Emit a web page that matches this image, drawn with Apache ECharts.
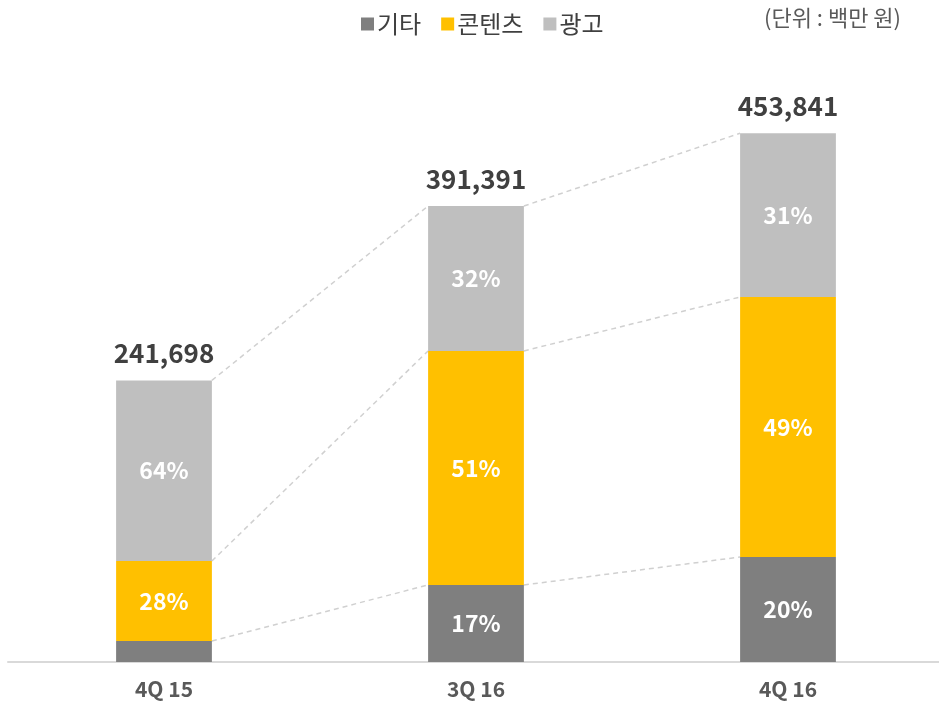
<!DOCTYPE html>
<html>
<head>
<meta charset="utf-8">
<script src="https://cdn.jsdelivr.net/npm/echarts@6/dist/echarts.min.js"></script>
<style>
  html, body { margin: 0; padding: 0; background: #fff; }
  #chart { width: 939px; height: 701px; }
</style>
</head>
<body>
<div id="chart"></div>
<script>
var categories = ['4Q 15', '3Q 16', '4Q 16'];
var etc = [18000, 66100, 90100];          // 기타
var contents = [68700, 200900, 223200];   // 콘텐츠
var ads = [154998, 124391, 140541];       // 광고
var totals = ['241,698', '391,391', '453,841'];
var etcPct = ['', '17%', '20%'];
var contentsPct = ['28%', '51%', '49%'];
var adsPct = ['64%', '32%', '31%'];

var FONT = '"Noto Sans CJK KR", "Noto Sans", sans-serif';
var BAR_RATIO = 0.307;

// connector lines between neighbouring bars
var links = [];
for (var i = 0; i < categories.length - 1; i++) {
    var a1 = etc[i], b1 = a1 + contents[i], c1 = b1 + ads[i];
    var a2 = etc[i + 1], b2 = a2 + contents[i + 1], c2 = b2 + ads[i + 1];
    links.push([i, i + 1, a1, b1, c1, a2, b2, c2]);
}

function pctLabel(arr) {
    return {
        show: true,
        position: 'inside',
        color: '#fff',
        fontSize: 23,
        fontWeight: 'bold',
        fontFamily: FONT,
        formatter: function (p) { return arr[p.dataIndex]; }
    };
}

var chart = echarts.init(document.getElementById('chart'));
var option = {
    animation: false,
    textStyle: { fontFamily: FONT },
    legend: {
        data: ['기타', '콘텐츠', '광고'],
        top: 7,
        left: 356,
        icon: 'rect',
        itemWidth: 13,
        itemHeight: 13,
        itemGap: 20,
        textStyle: { fontSize: 24, color: '#404040', fontFamily: FONT, padding: [0, 0, 0, -2] }
    },
    graphic: [{
        type: 'text',
        right: 38,
        top: 7,
        style: { text: '(단위 : 백만 원)', fontSize: 22, fill: '#595959', fontFamily: FONT }
    }],
    grid: { left: 8, width: 936, top: 62, bottom: 39, outerBoundsMode: 'none', containLabel: false },
    xAxis: {
        type: 'category',
        data: categories,
        axisLine: { lineStyle: { color: '#d9d9d9', width: 2 } },
        axisTick: { show: false },
        axisLabel: { fontSize: 21, color: '#595959', fontWeight: 'bold', margin: 17, fontFamily: FONT }
    },
    yAxis: {
        type: 'value',
        min: 0,
        max: 515000,
        show: false,
        splitLine: { show: false }
    },
    series: [
        {
            name: '기타', type: 'bar', stack: 'total', barWidth: (BAR_RATIO * 100) + '%',
            itemStyle: { color: '#7f7f7f' },
            label: pctLabel(etcPct),
            data: etc
        },
        {
            name: '콘텐츠', type: 'bar', stack: 'total',
            itemStyle: { color: '#ffc000' },
            label: pctLabel(contentsPct),
            data: contents
        },
        {
            name: '광고', type: 'bar', stack: 'total',
            itemStyle: { color: '#bfbfbf' },
            label: pctLabel(adsPct),
            data: ads
        },
        {
            name: '합계', type: 'bar', stack: 'total',
            itemStyle: { color: 'transparent' },
            label: {
                show: true,
                position: 'top',
                distance: 14,
                color: '#404040',
                fontSize: 26,
                fontWeight: 'bold',
                fontFamily: FONT,
                formatter: function (p) { return totals[p.dataIndex]; }
            },
            data: [0, 0, 0]
        },
        {
            type: 'custom',
            silent: true,
            z: 1,
            encode: { x: 0, y: [2, 3, 4] },
            renderItem: function (params, api) {
                var half = api.size([1, 0])[0] * BAR_RATIO / 2;
                var i0 = api.value(0), i1 = api.value(1);
                var children = [];
                for (var k = 0; k < 3; k++) {
                    var p1 = api.coord([i0, api.value(2 + k)]);
                    var p2 = api.coord([i1, api.value(5 + k)]);
                    children.push({
                        type: 'line',
                        shape: { x1: p1[0] + half, y1: p1[1], x2: p2[0] - half, y2: p2[1] },
                        style: { stroke: '#d0d0d0', lineWidth: 1.5, lineDash: [5, 4] }
                    });
                }
                return { type: 'group', children: children };
            },
            data: links
        }
    ]
};
chart.setOption(option);
</script>
</body>
</html>
